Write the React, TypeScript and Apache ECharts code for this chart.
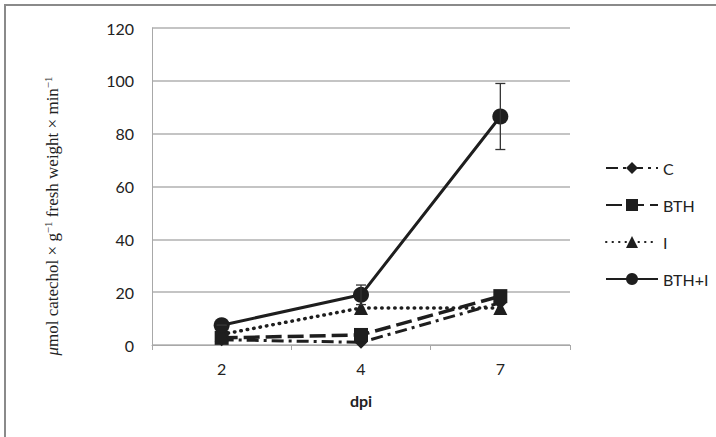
import React, { useEffect, useRef } from "react";
import * as echarts from "echarts";

const categories = ["2", "4", "7"];
const seriesC = [2, 1, 16];
const seriesBTH = [2.7, 3.8, 18.5];
const seriesI = [4, 14, 14];
const seriesBTHI = [7.5, 19, 86.5];
const errBTHI = [0, 3.7, 12.5];
const yTicks = { min: 0, max: 120, interval: 20 };
const yTitle = "{it|μ}{n|mol catechol × g}{sup|−1}{n| fresh weight × min}{sup|−1}";

export default function App() {
  const ref = useRef<HTMLDivElement>(null);
  useEffect(() => {
    if (!ref.current) return;
    const chart = echarts.init(ref.current, null, { renderer: "svg" });
    const ink = "#1e1e1e";
    const errData = seriesBTHI.map((v, i) => [i, v - errBTHI[i], v + errBTHI[i]]);
    chart.setOption({
      animation: false,
      backgroundColor: "#ffffff",
      graphic: [
        { type: "line", shape: { x1: 4, y1: 5, x2: 716, y2: 5 }, style: { stroke: "#8a8a8a", lineWidth: 2 } },
        { type: "line", shape: { x1: 5, y1: 4, x2: 5, y2: 437 }, style: { stroke: "#8a8a8a", lineWidth: 2 } },
        {
          type: "text",
          x: 52,
          y: 216,
          rotation: Math.PI / 2,
          style: {
            text: yTitle,
            align: "center",
            verticalAlign: "middle",
            fill: "#222",
            font: "17px 'Liberation Serif'",
            rich: {
              it: { fontFamily: "Liberation Serif", fontStyle: "italic", fontSize: 17, fill: "#222" },
              n: { fontFamily: "Liberation Serif", fontSize: 17, fill: "#222" },
              sup: { fontFamily: "Liberation Serif", fontSize: 11, fill: "#222", verticalAlign: "top", padding: [0, 0, 9, 0] },
            },
          },
        },
      ],
      grid: { left: 152, top: 28, right: 146, bottom: 92 },
      legend: {
        data: ["C", "BTH", "I", "BTH+I"],
        orient: "vertical",
        left: 600,
        top: 155,
        itemWidth: 52,
        itemHeight: 15,
        itemGap: 21,
        textStyle: { fontFamily: "Lato", fontSize: 16, color: "#222" },
      },
      xAxis: {
        type: "category",
        data: categories,
        boundaryGap: true,
        name: "dpi",
        nameLocation: "middle",
        nameGap: 47,
        nameTextStyle: { fontFamily: "Lato", fontSize: 16, fontWeight: "bold", color: "#222" },
        axisLine: { lineStyle: { color: "#a8a8a8", width: 1 } },
        axisTick: { show: true, alignWithLabel: false, length: 5, lineStyle: { color: "#a8a8a8" } },
        axisLabel: { fontFamily: "Lato", fontSize: 16, color: "#222", margin: 15 },
      },
      yAxis: {
        type: "value",
        min: yTicks.min,
        max: yTicks.max,
        interval: yTicks.interval,
        axisLine: { show: true, lineStyle: { color: "#a8a8a8" } },
        axisTick: { show: false },
        splitLine: { lineStyle: { color: "#b0b0b0", width: 1.5 } },
        axisLabel: { fontFamily: "Lato", fontSize: 16, color: "#222", margin: 18 },
      },
      series: [
        {
          name: "C",
          type: "line",
          data: seriesC,
          symbol: "diamond",
          symbolSize: 13,
          itemStyle: { color: ink },
          lineStyle: { color: ink, width: 3, type: [12, 5, 3, 5] },
        },
        {
          name: "BTH",
          type: "line",
          data: seriesBTH,
          symbol: "rect",
          symbolSize: 14,
          itemStyle: { color: ink },
          lineStyle: { color: ink, width: 3.5, type: [16, 6] },
        },
        {
          name: "I",
          type: "line",
          data: seriesI,
          symbol: "triangle",
          symbolSize: 14,
          itemStyle: { color: ink },
          lineStyle: { color: ink, width: 3.5, type: [0.5, 6], cap: "round" },
        },
        {
          name: "BTH+I",
          type: "line",
          data: seriesBTHI,
          symbol: "circle",
          symbolSize: 16,
          itemStyle: { color: ink },
          lineStyle: { color: ink, width: 3 },
          z: 3,
        },
        {
          name: "err",
          type: "custom",
          data: errData,
          z: 4,
          renderItem: (params: any, api: any) => {
            const x = api.value(0);
            const lo = api.coord([x, api.value(1)]);
            const hi = api.coord([x, api.value(2)]);
            const w = 5;
            const st = { stroke: "#333", lineWidth: 1.3 };
            return {
              type: "group",
              children: [
                { type: "line", shape: { x1: hi[0], y1: hi[1], x2: lo[0], y2: lo[1] }, style: st },
                { type: "line", shape: { x1: hi[0] - w, y1: hi[1], x2: hi[0] + w, y2: hi[1] }, style: st },
                { type: "line", shape: { x1: lo[0] - w, y1: lo[1], x2: lo[0] + w, y2: lo[1] }, style: st },
              ],
            };
          },
        },
      ],
    });
    return () => chart.dispose();
  }, []);
  return <div ref={ref} style={{ width: 716, height: 437, position: "absolute", left: 0, top: 0 }} />;
}
